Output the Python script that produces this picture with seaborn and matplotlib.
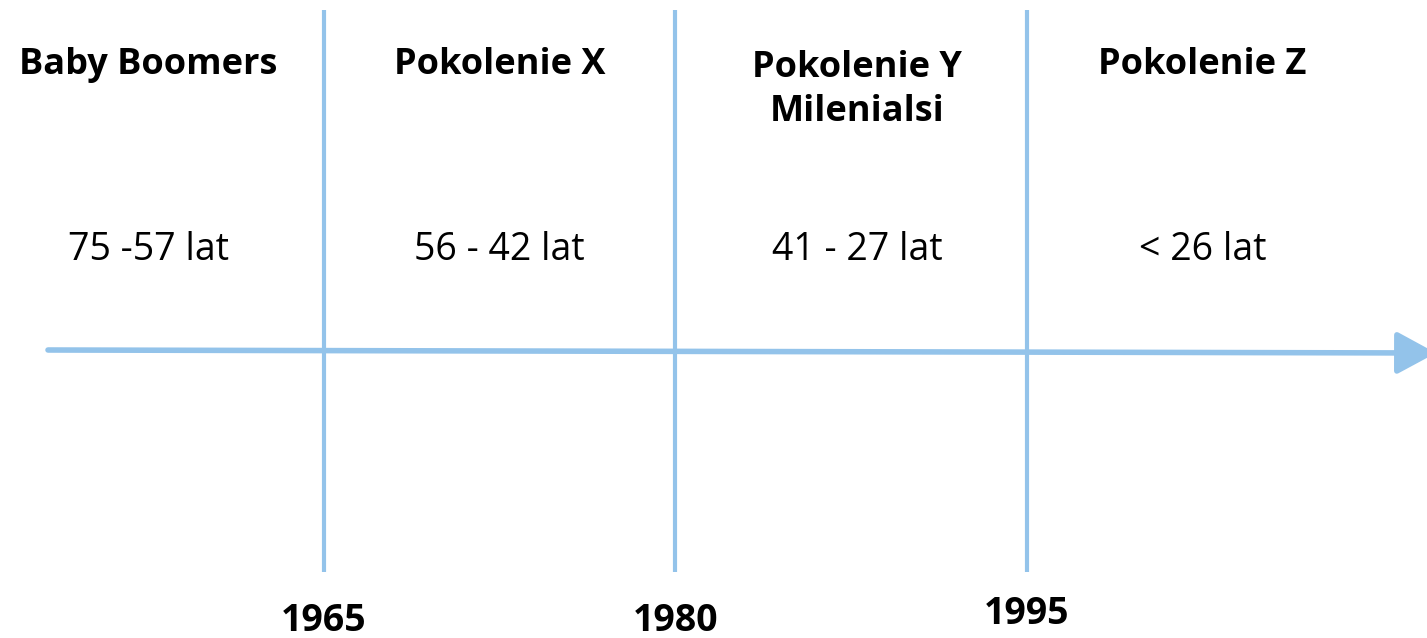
import matplotlib
matplotlib.use("Agg")
import matplotlib.pyplot as plt
import seaborn as sns

# --- data ---
generations = ["Baby Boomers", "Pokolenie X", "Pokolenie Y\nMilenialsi", "Pokolenie Z"]
ages = ["75 -57 lat", "56 - 42 lat", "41 - 27 lat", "< 26 lat"]
boundary_years = [1965, 1980, 1995]
year_labels = ["1965", "1980", "1995"]

line_color = "#93c3ea"

sns.set_theme(style="white")
plt.rcParams["font.family"] = ["Open Sans", "DejaVu Sans"]

fig = plt.figure(figsize=(14.27, 6.38), dpi=100)
ax = fig.add_axes([0, 0, 1, 1])

# horizontal scale in years, vertical in rows from the top
px_per_year = 23.43
x_left = 1980 - 675.3 / px_per_year
x_right = x_left + 1427 / px_per_year
ax.set_xlim(x_left, x_right)
ax.set_ylim(638, 0)
ax.axis("off")

# vertical dividers
ax.vlines(boundary_years, 10, 572, color=line_color, lw=3)

# time axis arrow
ax.annotate("", xy=(x_left + 1436 / px_per_year, 353), xytext=(x_left + 48 / px_per_year, 350),
            arrowprops=dict(arrowstyle="-|>,head_length=1.2,head_width=0.65", mutation_scale=20,
                            lw=4, color=line_color, shrinkA=0, shrinkB=0),
            annotation_clip=False)

# labels: each generation centred a bit before its end boundary
ends = boundary_years + [boundary_years[-1] + 15]
for name, age, end in zip(generations, ages, ends):
    cx = end - 7.5 + (0.25 if "\n" in name else 0)
    ty = 90 if "\n" in name else 65
    ax.text(cx, ty, name, ha="center", va="center", fontsize=26, fontweight="bold",
            color="black", linespacing=1.3)
    ax.text(cx, 250, age, ha="center", va="center", fontsize=27, color="black")

year_y = [621, 621, 614]
for yr, lab, yy in zip(boundary_years, year_labels, year_y):
    ax.text(yr, yy, lab, ha="center", va="center", fontsize=27, fontweight="bold", color="black")

fig.savefig("out.png", dpi=100, facecolor="white")
